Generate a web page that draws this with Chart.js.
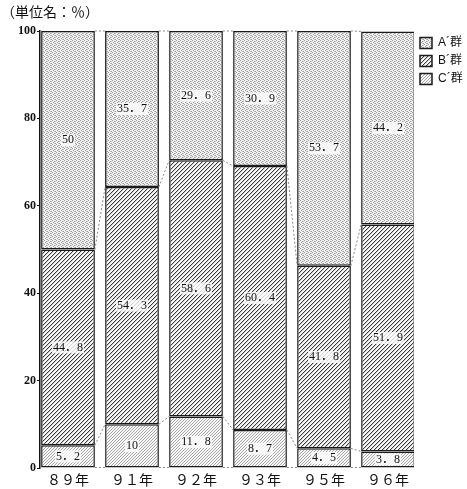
<!DOCTYPE html>
<html><head><meta charset="utf-8">
<script src="https://cdn.jsdelivr.net/npm/chart.js@4.4.0/dist/chart.umd.min.js"></script>
<style>html,body{margin:0;padding:0;background:#fff}#wrap{width:467px;height:489px;position:relative}</style>
</head><body><div id="wrap"><canvas id="c"></canvas></div>
<script>
const categories = ['８９年','９１年','９２年','９３年','９５年','９６年'];
const seriesNames = ['C´群','B´群','A´群'];
const cValues = [5.2, 10, 11.8, 8.7, 4.5, 3.8];
const bValues = [44.8, 54.3, 58.6, 60.4, 41.8, 51.9];
const aValues = [50, 35.7, 29.6, 30.9, 53.7, 44.2];
const yTicks = [0, 20, 40, 60, 80, 100];
const unitTitle = '（単位名：％）';

function makePattern(size, bg, layers){
  const cv = document.createElement('canvas'); cv.width = size; cv.height = size;
  const g = cv.getContext('2d');
  g.fillStyle = bg; g.fillRect(0,0,size,size);
  layers.forEach(L => { g.fillStyle = L.color; L.pts.forEach(p => g.fillRect(p[0], p[1], 1, 1)); });
  return g.createPattern(cv, 'repeat');
}
const patA = makePattern(4, '#f2f2f2', [{color:'#9a9a9a', pts:[[0,0],[2,1],[1,2],[3,3]]},{color:'#c4c4c4', pts:[[2,3],[3,1]]}]);
const patB = makePattern(4, '#f8f8f8', [{color:'#3a3a3a', pts:[[0,3],[1,2],[2,1],[3,0]]},{color:'#cfcfcf', pts:[[0,0],[1,3],[2,2],[3,1]]}]);
const patC = makePattern(3, '#f7f7f7', [{color:'#a8a8a8', pts:[[0,0],[2,1],[1,2]]}]);

const toXY = arr => arr.map((v,i) => ({x:i, y:v}));

const overlay = {
  id: 'overlay',
  afterDatasetsDraw(chart){
    const ctx = chart.ctx;
    const metas = chart.data.datasets.map((d,i) => chart.getDatasetMeta(i));
    ctx.save();
    ctx.setLineDash([2,2]); ctx.strokeStyle = '#888'; ctx.lineWidth = 1;
    for (let i = 0; i < categories.length - 1; i++){
      const a0 = metas[0].data[i], b0 = metas[0].data[i+1];
      const xa = a0.x + a0.width/2, xb = b0.x - b0.width/2;
      const levels = [[a0.base, b0.base]];
      metas.forEach(m => levels.push([m.data[i].y, m.data[i+1].y]));
      levels.forEach(l => { ctx.beginPath(); ctx.moveTo(xa, l[0]); ctx.lineTo(xb, l[1]); ctx.stroke(); });
    }
    ctx.setLineDash([]);
    ctx.font = '12px "Liberation Serif","Noto Sans CJK JP",serif';
    ctx.textAlign = 'center'; ctx.textBaseline = 'middle';
    metas.forEach((m, di) => {
      m.data.forEach((el, i) => {
        const v = chart.data.datasets[di].data[i].y;
        const txt = String(v).replace('.', '．');
        const cy = (el.y + el.base) / 2;
        const w = ctx.measureText(txt).width;
        ctx.fillStyle = 'rgba(255,255,255,0.8)';
        ctx.fillRect(el.x - w/2 - 1, cy - 6, w + 2, 12);
        ctx.fillStyle = '#111';
        ctx.fillText(txt, el.x, cy);
      });
    });
    ctx.font = '14px "Noto Sans CJK JP",sans-serif';
    ctx.textAlign = 'left'; ctx.textBaseline = 'middle';
    ctx.fillStyle = '#111';
    ctx.fillText(unitTitle, 1, 12);
    ctx.restore();
  }
};

new Chart(document.getElementById('c'), {
  type: 'bar',
  data: {
    datasets: [
      {label: seriesNames[0], data: toXY(cValues), backgroundColor: patC},
      {label: seriesNames[1], data: toXY(bValues), backgroundColor: patB},
      {label: seriesNames[2], data: toXY(aValues), backgroundColor: patA}
    ]
  },
  options: {
    responsive: true, maintainAspectRatio: false, animation: false,
    datasets: { bar: { borderColor: '#1a1a1a', borderWidth: 1.5, borderSkipped: false, barPercentage: 0.84, categoryPercentage: 1 } },
    layout: { padding: { left: 17, top: 31, right: 0, bottom: 0 } },
    scales: {
      x: {
        type: 'linear', stacked: true, min: -0.4375, max: 5.406, offset: false,
        grid: { display: false, offset: false }, border: { display: false },
        afterBuildTicks: s => { s.ticks = categories.map((c,i) => ({value: i})); },
        afterFit: s => { s.height = 21; },
        ticks: { autoSkip: false, maxRotation: 0, padding: -5, color: '#111',
          font: { family: '"Noto Sans CJK JP",sans-serif', size: 14 },
          callback: v => categories[v] }
      },
      y: {
        stacked: true, min: 0, max: 100,
        afterBuildTicks: s => { s.ticks = yTicks.map(v => ({value: v})); },
        grid: { drawOnChartArea: false, drawTicks: true, tickLength: 3, color: '#111' },
        border: { display: true, color: '#111', width: 1.5 },
        ticks: { padding: 1, color: '#111', font: { family: '"Liberation Serif",serif', size: 12, weight: 'bold' } }
      }
    },
    plugins: {
      legend: {
        position: 'right', align: 'start', reverse: true, maxWidth: 53,
        labels: { boxWidth: 12, boxHeight: 11, padding: 6, color: '#111',
          font: { family: '"Liberation Sans","Noto Sans CJK JP",sans-serif', size: 12 } }
      },
      tooltip: { enabled: false }
    }
  },
  plugins: [overlay]
});
</script></body></html>
